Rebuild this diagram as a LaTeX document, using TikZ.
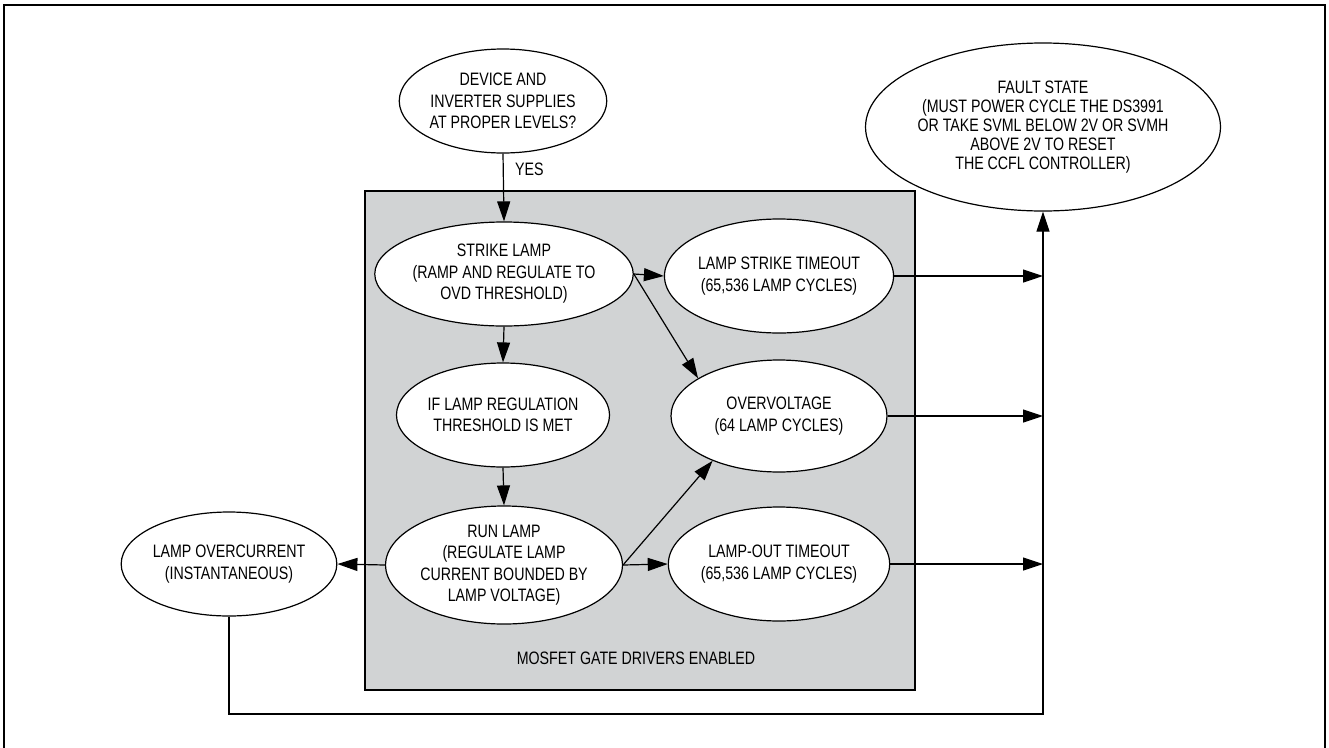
\documentclass[tikz,border=0pt]{standalone}
\usepackage{fontspec}
\setmainfont[FakeStretch=0.79]{Liberation Sans}
\usetikzlibrary{shapes.geometric,arrows.meta}
\definecolor{panelgray}{RGB}{209,211,212}
\begin{document}
\begin{tikzpicture}[x=1pt,y=-1pt,
  st/.style={ellipse,draw,line width=1.2pt,fill=white,inner sep=0pt,align=center,
    font=\fontsize{18}{21.5}\selectfont},
  conn/.style={line width=1.2pt},
  arr/.style={conn,-{Triangle[length=20pt,width=13pt]}},
  lbl/.style={inner sep=0pt,font=\fontsize{18}{21.5}\selectfont}]
\useasboundingbox (0,0) rectangle (1329,747);
\draw[line width=2pt] (3.5,760) -- (3.5,4.5) -- (1324.5,4.5) -- (1324.5,760);
\node[draw,line width=1.3pt,fill=panelgray,minimum width=550pt,minimum height=499pt,inner sep=0pt] (panel) at (640,440.5) {};

\node[st,minimum width=196pt,minimum height=104pt] (dev) at (503,101) {DEVICE AND\\INVERTER SUPPLIES\\AT PROPER LEVELS?};
\node[st,minimum width=196pt,minimum height=104pt] (strike) at (504,274) {STRIKE LAMP\\(RAMP AND REGULATE TO\\OVD THRESHOLD)};
\node[st,minimum width=196pt,minimum height=104pt] (ifl) at (503,415) {IF LAMP REGULATION\\THRESHOLD IS MET};
\node[st,minimum width=226pt,minimum height=118pt] (run) at (504,565) {RUN LAMP\\(REGULATE LAMP\\CURRENT BOUNDED BY\\LAMP VOLTAGE)};
\node[st,minimum width=216pt,minimum height=114pt] (lst) at (779,276) {LAMP STRIKE TIMEOUT\\(65,536 LAMP CYCLES)};
\node[st,minimum width=216pt,minimum height=112pt] (ov) at (779,416) {OVERVOLTAGE\\(64 LAMP CYCLES)};
\node[st,minimum width=216pt,minimum height=114pt] (lot) at (779,564) {LAMP-OUT TIMEOUT\\(65,536 LAMP CYCLES)};
\node[st,minimum width=196pt,minimum height=104pt] (oc) at (229,564) {LAMP OVERCURRENT\\(INSTANTANEOUS)};
\node[st,minimum width=316pt,minimum height=168pt,font=\fontsize{18}{19}\selectfont] (fault) at (1043,127) {FAULT STATE\\(MUST POWER CYCLE THE DS3991\\OR TAKE SVML BELOW 2V OR SVMH\\ABOVE 2V TO RESET\\THE CCFL CONTROLLER)};

\node[lbl,anchor=west] (yes) at (515,169) {YES};
\node[lbl] (mosfet) at (636,658) {MOSFET GATE DRIVERS ENABLED};

\coordinate (busb) at (1043,714);
\coordinate (ocb) at (229,714);

\draw[arr] (dev.south) -- (strike.north);
\draw[arr] (strike.south) -- (ifl.north);
\draw[arr] (ifl.south) -- (run.north);
\draw[arr] (strike.east) -- (lst.west);
\draw[arr] (strike.east) -- (ov.155);
\draw[arr] (run.east) -- (ov.214);
\draw[arr] (run.east) -- (lot.west);
\draw[arr] (run.west) -- (oc.east);
\draw[arr] (lst.east) -- (lst.east -| busb);
\draw[arr] (ov.east) -- (ov.east -| busb);
\draw[arr] (lot.east) -- (lot.east -| busb);
\draw[arr] (oc.south) -- (ocb) -- (busb) -- (fault.south);
\end{tikzpicture}
\end{document}
